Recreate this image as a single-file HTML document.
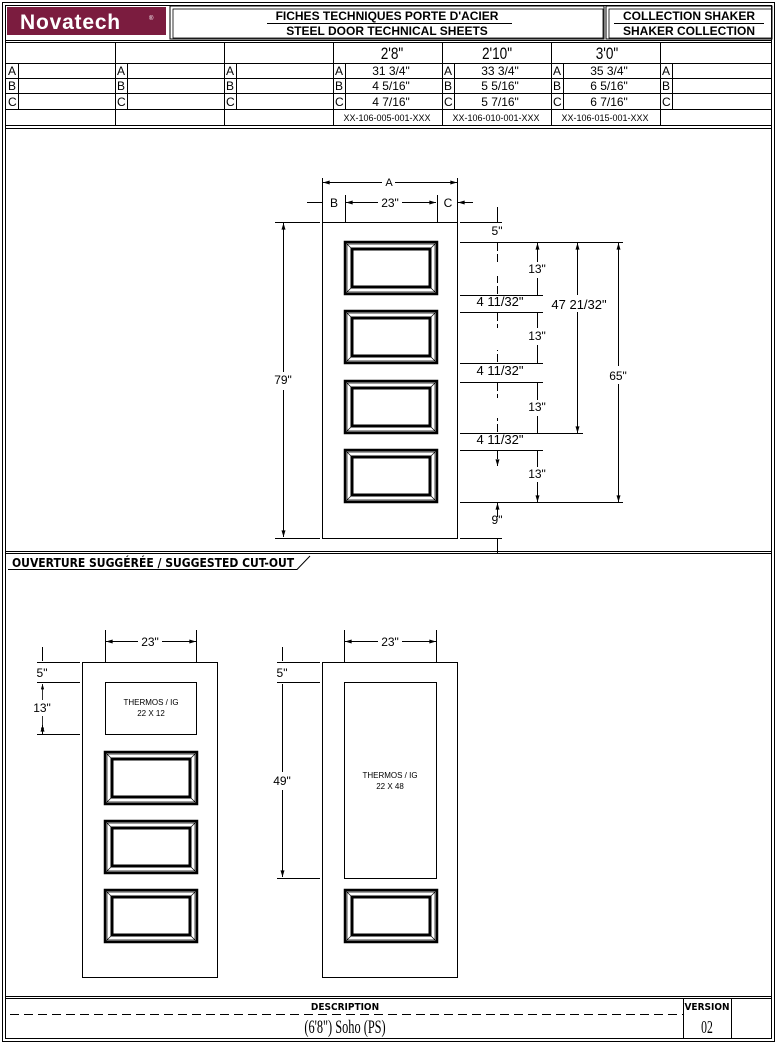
<!DOCTYPE html>
<html><head><meta charset="utf-8"><style>
html,body{margin:0;padding:0;background:#fff}
svg{display:block}
text{font-family:"Liberation Sans",sans-serif;fill:#000}
.n{font-family:"Liberation Sans",sans-serif;font-size:12px}
</style></head><body>
<svg width="777" height="1044" viewBox="0 0 777 1044" xmlns="http://www.w3.org/2000/svg">
<defs>
<marker id="a" viewBox="0 0 10 6" refX="10" refY="3" markerWidth="7" markerHeight="4" orient="auto-start-reverse"><path d="M0,0L10,3L0,6z" fill="#000"/></marker>
<g id="p">
<rect x="0" y="0" width="92" height="52" fill="none" stroke="#000" stroke-width="2.5"/>
<rect x="7" y="7" width="78" height="38" fill="none" stroke="#000" stroke-width="3"/>
<path d="M0,0L7,7M92,0L85,7M0,52L7,45M92,52L85,45M2,2H90V50H2z" stroke="#000" stroke-width="0.7" fill="none"/>
</g>
</defs>
<g fill="none" stroke="#000">
<rect x="2.5" y="2.5" width="772" height="1039" stroke-width="1"/>
<rect x="5.5" y="5.5" width="766" height="1033" stroke-width="1"/>
<rect x="170" y="6" width="434" height="33" stroke-width="1"/>
<rect x="173" y="9" width="430" height="29" stroke-width="0.8"/>
<rect x="606" y="6" width="166" height="33" stroke-width="1"/>
<rect x="609" y="9" width="163" height="29" stroke-width="0.8"/>
<path d="M6,40.5H772M6,42.5H772" stroke-width="1"/>
<path d="M6,63.5H772M6,78.5H772M6,93.5H772M6,109.5H772M6,125.5H772M6,128.5H772" stroke-width="1"/>
<path d="M115.5,42V126M224.5,42V126M333.5,42V126M442.5,42V126M551.5,42V126M660.5,42V126" stroke-width="1"/>
<path d="M18.5,63V109M127.5,63V109M236.5,63V109M345.5,63V109M454.5,63V109M563.5,63V109M672.5,63V109" stroke-width="1"/>
<path d="M267,23.5H512M614,23.5H764" stroke-width="1"/>
</g>
<rect x="7" y="7" width="159" height="28" fill="#7b1c3f"/>
<text x="20" y="29" font-size="21" font-weight="bold" letter-spacing="0.8" style="fill:#fff">Novatech</text>
<text x="149" y="20" font-size="6" style="fill:#fff">®</text>
<text x="387" y="20" font-size="12" font-weight="bold" text-anchor="middle">FICHES TECHNIQUES PORTE D'ACIER</text>
<text x="387" y="35" font-size="12" font-weight="bold" text-anchor="middle">STEEL DOOR TECHNICAL SHEETS</text>
<text x="689" y="20" font-size="12" font-weight="bold" text-anchor="middle">COLLECTION SHAKER</text>
<text x="689" y="35" font-size="12" font-weight="bold" text-anchor="middle">SHAKER COLLECTION</text>
<g class="n" text-anchor="middle">
<text x="392" y="59" font-size="17" transform="translate(392 0) scale(0.8 1) translate(-392 0)">2'8"</text>
<text x="497" y="59" font-size="17" transform="translate(497 0) scale(0.8 1) translate(-497 0)">2'10"</text>
<text x="607" y="59" font-size="17" transform="translate(607 0) scale(0.8 1) translate(-607 0)">3'0"</text>
</g>
<g class="n" font-size="12">
<text x="8" y="75">A</text><text x="8" y="90">B</text><text x="8" y="106">C</text>
<text x="117" y="75">A</text><text x="117" y="90">B</text><text x="117" y="106">C</text>
<text x="226" y="75">A</text><text x="226" y="90">B</text><text x="226" y="106">C</text>
<text x="335" y="75">A</text><text x="335" y="90">B</text><text x="335" y="106">C</text>
<text x="444" y="75">A</text><text x="444" y="90">B</text><text x="444" y="106">C</text>
<text x="553" y="75">A</text><text x="553" y="90">B</text><text x="553" y="106">C</text>
<text x="662" y="75">A</text><text x="662" y="90">B</text><text x="662" y="106">C</text>
</g>
<g class="n" font-size="12" text-anchor="middle">
<text x="391" y="75">31 3/4"</text><text x="391" y="90">4 5/16"</text><text x="391" y="106">4 7/16"</text>
<text x="500" y="75">33 3/4"</text><text x="500" y="90">5 5/16"</text><text x="500" y="106">5 7/16"</text>
<text x="609" y="75">35 3/4"</text><text x="609" y="90">6 5/16"</text><text x="609" y="106">6 7/16"</text>
<text x="387" y="121" font-size="9">XX-106-005-001-XXX</text><text x="496" y="121" font-size="9">XX-106-010-001-XXX</text><text x="605" y="121" font-size="9">XX-106-015-001-XXX</text>
</g>

<g fill="none" stroke="#000" stroke-width="1">
<rect x="322.5" y="222.5" width="135" height="316"/>
<path d="M322.5,178V222M457.5,178V222M345.5,195V222M437.5,195V222"/>
<path d="M323,182.5H382M395,182.5H457" marker-start="url(#a)" marker-end="url(#a)"/>
<path d="M346,202.5H378M402,202.5H436" marker-start="url(#a)" marker-end="url(#a)"/>
<path d="M307,202.5H322M473,202.5H458" marker-end="url(#a)"/>
<path d="M275,222.5H320M275,538.5H320"/>
<path d="M283.5,223V372M283.5,390V537" marker-start="url(#a)" marker-end="url(#a)"/>
<path d="M460,222.5H502M460,242.5H623M460,295.5H543M460,312.5H543M460,363.5H543M460,382.5H543M460,433.5H583M460,450.5H543M460,502.5H623M460,538.5H502"/>
<path d="M497.5,207V222M497.5,553V538M497.5,517V503" marker-end="url(#a)"/>
<path d="M497.5,243V262M497.5,294V276M497.5,313V328M497.5,362V350M497.5,383V398M497.5,432V418M497.5,451V466" marker-end="url(#a)" stroke-dasharray="8 3"/>
<path d="M537.5,243V262M537.5,278V295M537.5,313V328M537.5,345V363M537.5,383V400M537.5,416V433M537.5,451V467M537.5,482V502" marker-start="url(#a)" marker-end="url(#a)"/>
<path d="M577.5,243V295M577.5,312V433" marker-start="url(#a)" marker-end="url(#a)"/>
<path d="M618.5,243V366M618.5,384V502" marker-start="url(#a)" marker-end="url(#a)"/>
</g>
<use href="#p" x="345" y="242"/><use href="#p" x="345" y="311"/><use href="#p" x="345" y="381"/><use href="#p" x="345" y="450"/>
<g class="n">
<text x="389" y="186" text-anchor="middle" font-size="11">A</text>
<text x="334" y="207" text-anchor="middle">B</text>
<text x="390" y="207" text-anchor="middle">23"</text>
<text x="448" y="207" text-anchor="middle">C</text>
<text x="283" y="384" text-anchor="middle">79"</text>
<text x="497" y="235" text-anchor="middle">5"</text>
<text x="497" y="524" text-anchor="middle">9"</text>
<text x="537" y="273" text-anchor="middle">13"</text>
<text x="537" y="340" text-anchor="middle">13"</text>
<text x="537" y="411" text-anchor="middle">13"</text>
<text x="537" y="478" text-anchor="middle">13"</text>
<text x="500" y="306" text-anchor="middle" font-size="13">4 11/32"</text>
<text x="500" y="375" text-anchor="middle" font-size="13">4 11/32"</text>
<text x="500" y="444" text-anchor="middle" font-size="13">4 11/32"</text>
<text x="579" y="309" text-anchor="middle" font-size="13">47 21/32"</text>
<text x="618" y="380" text-anchor="middle">65"</text>
</g>

<g fill="none" stroke="#000" stroke-width="1">
<path d="M6,551.5H772M6,553.5H772"/>
<path d="M8,569.5H297L310,556"/>
<rect x="82.5" y="662.5" width="135" height="315"/>
<rect x="105.5" y="682.5" width="91" height="52"/>
<path d="M105.5,630V662M196.5,630V662"/>
<path d="M106,641.5H138M162,641.5H196" marker-start="url(#a)" marker-end="url(#a)"/>
<path d="M37,662.5H80M37,682.5H80M37,734.5H80"/>
<path d="M42.5,647V661M42.5,735V725" marker-end="url(#a)"/>
<path d="M42.5,684V700M42.5,716V733" marker-start="url(#a)" marker-end="url(#a)" stroke-width="0.8"/>
<rect x="322.5" y="662.5" width="135" height="315"/>
<rect x="344.5" y="682.5" width="92" height="196"/>
<path d="M344.5,630V662M436.5,630V662"/>
<path d="M345,641.5H378M402,641.5H436" marker-start="url(#a)" marker-end="url(#a)"/>
<path d="M277,662.5H320M277,682.5H320M277,878.5H320"/>
<path d="M282.5,647V661M282.5,684V772M282.5,790V877" marker-end="url(#a)"/>
<path d="M6,996.5H772M6,998.5H772M683.5,999V1038M731.5,999V1038"/>
<path d="M10,1014.5H683" stroke-dasharray="9 5"/>
</g>
<use href="#p" x="105" y="752"/><use href="#p" x="105" y="821"/><use href="#p" x="105" y="890"/>
<use href="#p" x="345" y="890"/>
<text x="12" y="567" font-size="12" font-weight="bold" style="font-family:'DejaVu Sans Condensed','DejaVu Sans',sans-serif">OUVERTURE SUGGÉRÉE / SUGGESTED CUT-OUT</text>
<g class="n">
<text x="150" y="646" text-anchor="middle">23"</text>
<text x="390" y="646" text-anchor="middle">23"</text>
<text x="42" y="677" text-anchor="middle">5"</text>
<text x="42" y="712" text-anchor="middle">13"</text>
<text x="282" y="677" text-anchor="middle">5"</text>
<text x="282" y="785" text-anchor="middle">49"</text>
</g>
<g style="font-family:'Liberation Mono',monospace" font-size="8" text-anchor="middle">
<text x="151" y="705">THERMOS / IG</text><text x="151" y="716">22 X 12</text>
<text x="390" y="778">THERMOS / IG</text><text x="390" y="789">22 X 48</text>
</g>
<text x="345" y="1010" font-size="10" font-weight="bold" text-anchor="middle" style="font-family:'DejaVu Sans Condensed',sans-serif">DESCRIPTION</text>
<text x="707" y="1010" font-size="10" font-weight="bold" text-anchor="middle" style="font-family:'DejaVu Sans Condensed',sans-serif">VERSION</text>
<text x="345" y="1033" font-size="19" text-anchor="middle" style="font-family:'Liberation Serif',serif" transform="translate(345 0) scale(0.65 1) translate(-345 0)">(6'8") Soho (PS)</text>
<text x="707" y="1033" font-size="18" text-anchor="middle" style="font-family:'Liberation Serif',serif" transform="translate(707 0) scale(0.65 1) translate(-707 0)">02</text>
</svg>
</body></html>
